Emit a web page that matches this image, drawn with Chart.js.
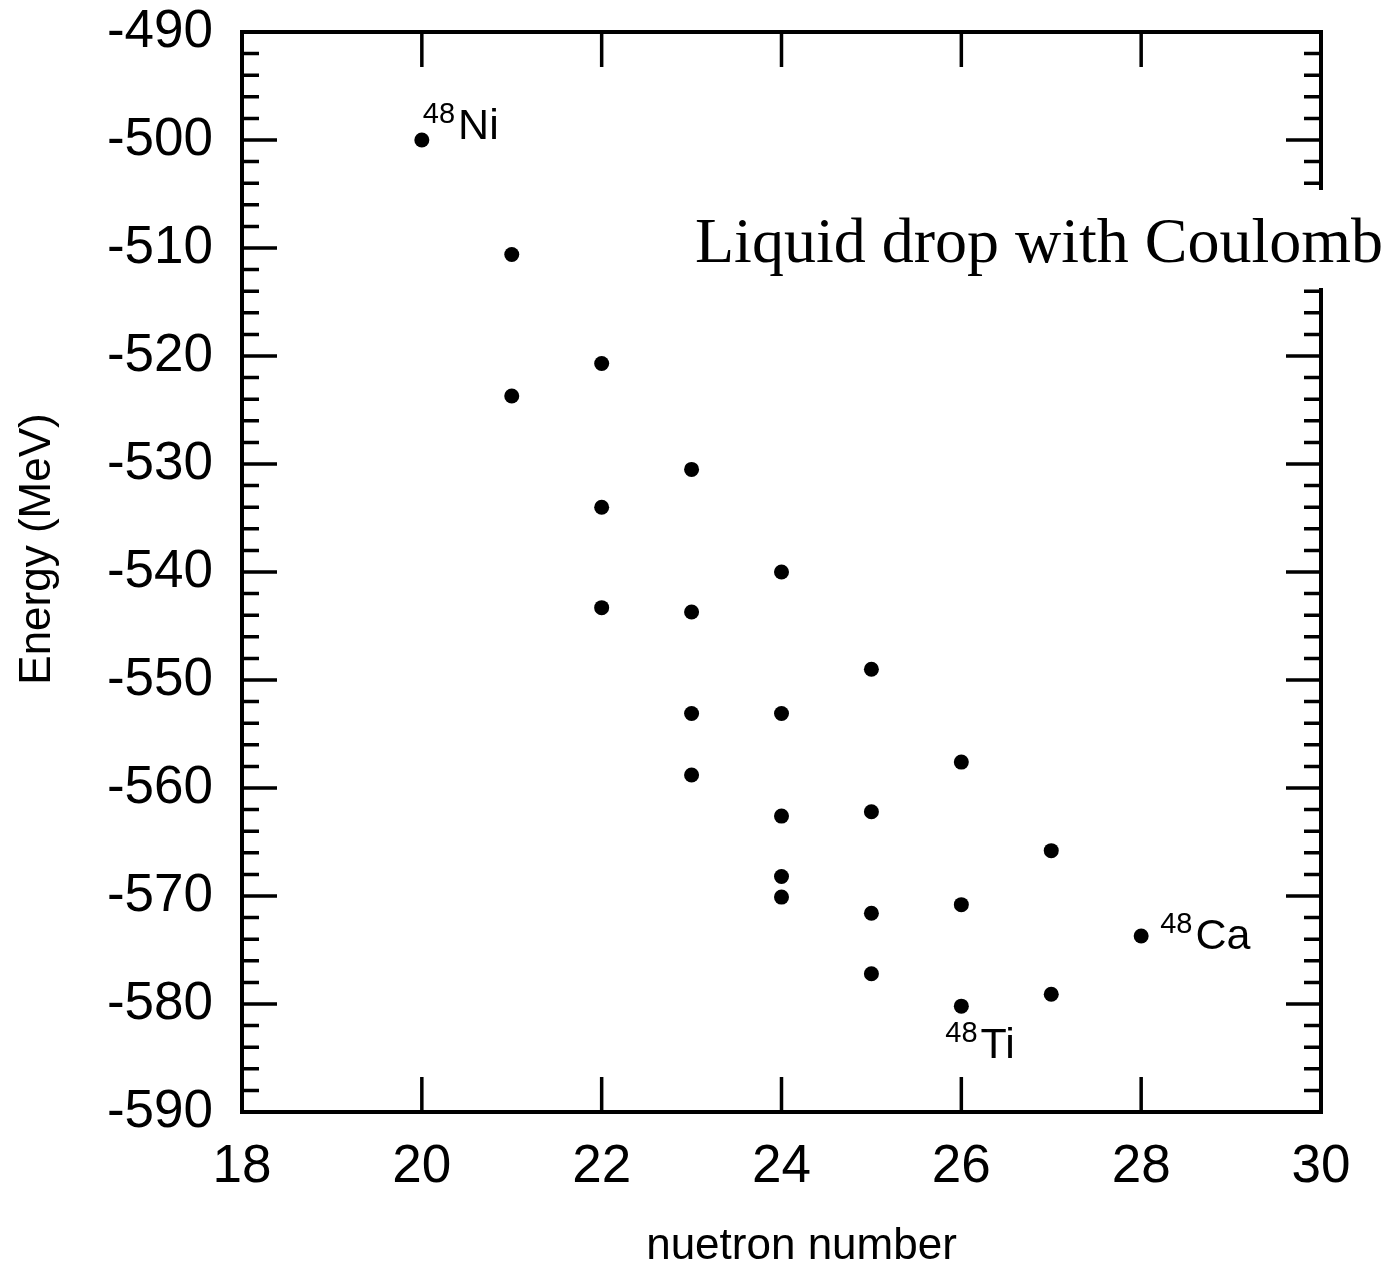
<!DOCTYPE html>
<html>
<head>
<meta charset="utf-8">
<script src="https://cdn.jsdelivr.net/npm/chart.js@4.4.0/dist/chart.umd.min.js"></script>
<style>
  html, body { margin: 0; padding: 0; background: #fff; }
  #wrap { width: 1390px; height: 1265px; }
</style>
</head>
<body>
<div id="wrap"><canvas id="chart" width="1390" height="1265"></canvas></div>
<script>
// datos
const neutrones = [20, 21, 21, 22, 22, 22, 23, 23, 23, 23, 24, 24, 24, 24, 24, 25, 25, 25, 25, 26, 26, 26, 27, 27, 28];
const energias = [-500.0, -510.6, -523.7, -520.7, -534.0, -543.3, -530.5, -543.7, -553.1, -558.8,
  -540.0, -553.1, -562.6, -568.2, -570.1, -549.0, -562.2, -571.6, -577.2, -557.6, -570.8, -580.2,
  -565.8, -579.1, -573.7];

const xTicks = [18, 20, 22, 24, 26, 28, 30];
const yTicks = [-590, -580, -570, -560, -550, -540, -530, -520, -510, -500, -490];

const isotopos = ['Ni', 'Ti', 'Ca'];
const isoN = [20, 26, 28];
const isoE = [-500.0, -580.2, -573.7];
const isoMasa = ['48', '48', '48'];

const titulo = 'Liquid drop with Coulomb';
const tituloX = 'nuetron number';
const tituloY = 'Energy (MeV)';

const sans = '"Liberation Sans", Arial, Helvetica, sans-serif';
const serif = '"Liberation Serif", "Times New Roman", serif';

// marcas hacia dentro, caja y textos
const decoracion = {
  id: 'decoracion',
  afterDraw(chart) {
    const ctx = chart.ctx;
    const a = chart.chartArea;
    const xs = chart.scales.x;
    const ys = chart.scales.y;
    ctx.save();
    ctx.strokeStyle = '#000';
    ctx.lineCap = 'butt';

    // ticks eje y (cada 2 MeV, mayores cada 10)
    ctx.lineWidth = 3.5;
    for (let v = -590; v <= -490; v += 2) {
      const y = ys.getPixelForValue(v);
      const len = (v % 10 === 0) ? 35 : 17;
      ctx.beginPath();
      ctx.moveTo(a.left, y); ctx.lineTo(a.left + len, y);
      ctx.moveTo(a.right, y); ctx.lineTo(a.right - len, y);
      ctx.stroke();
    }
    // ticks eje x
    xTicks.forEach(v => {
      const x = xs.getPixelForValue(v);
      ctx.beginPath();
      ctx.moveTo(x, a.bottom); ctx.lineTo(x, a.bottom - 35);
      ctx.moveTo(x, a.top); ctx.lineTo(x, a.top + 35);
      ctx.stroke();
    });

    // caja
    ctx.lineWidth = 4;
    ctx.strokeRect(a.left, a.top, a.right - a.left, a.bottom - a.top);

    // etiquetas de isotopos
    ctx.fillStyle = '#000';
    ctx.textBaseline = 'alphabetic';
    ctx.textAlign = 'left';
    const offs = [[1, -17, -1], [-16, 36, 52], [19, -3, 13]];
    isotopos.forEach((nombre, i) => {
      const px = xs.getPixelForValue(isoN[i]);
      const py = ys.getPixelForValue(isoE[i]);
      const o = offs[i];
      ctx.font = '29px ' + sans;
      ctx.fillText(isoMasa[i], px + o[0], py + o[1]);
      const w = ctx.measureText(isoMasa[i]).width;
      ctx.font = '43px ' + sans;
      ctx.fillText(nombre, px + o[0] + w + 3, py + o[2]);
    });

    // titulo eje y
    ctx.font = '44px ' + sans;
    ctx.save();
    ctx.translate(50, 549);
    ctx.rotate(-Math.PI / 2);
    ctx.textAlign = 'center';
    ctx.fillText(tituloY, 0, 0);
    ctx.restore();

    // titulo eje x
    ctx.textAlign = 'center';
    ctx.fillText(tituloX, (a.left + a.right) / 2 + 20, 1259);

    // texto con fondo blanco
    ctx.fillStyle = '#fff';
    ctx.fillRect(690, 190, 700, 98);
    ctx.fillStyle = '#000';
    ctx.font = '64px ' + serif;
    ctx.textAlign = 'left';
    ctx.fillText(titulo, 695, 262);
    ctx.restore();
  }
};

const ctx = document.getElementById('chart').getContext('2d');
new Chart(ctx, {
  type: 'scatter',
  data: {
    datasets: [{
      data: neutrones.map((n, i) => ({ x: n, y: energias[i] })),
      backgroundColor: '#000',
      borderColor: '#000',
      pointRadius: 7.5,
      pointHoverRadius: 7.5,
      borderWidth: 0
    }]
  },
  options: {
    responsive: false,
    animation: false,
    events: [],
    layout: { padding: { top: 32, right: 69, left: 0, bottom: 0 } },
    plugins: {
      legend: { display: false },
      tooltip: { enabled: false }
    },
    scales: {
      x: {
        type: 'linear',
        min: 18,
        max: 30,
        afterFit: s => { s.height = 153; s.paddingLeft = 0; s.paddingRight = 0; },
        afterBuildTicks: s => { s.ticks = xTicks.map(v => ({ value: v })); },
        grid: { display: false, drawTicks: false },
        border: { display: false },
        ticks: {
          padding: 24,
          color: '#000',
          font: { family: sans, size: 53 },
          callback: v => String(v)
        }
      },
      y: {
        type: 'linear',
        min: -590,
        max: -490,
        afterFit: s => { s.width = 242; s.paddingTop = 0; s.paddingBottom = 0; },
        afterBuildTicks: s => { s.ticks = yTicks.map(v => ({ value: v })); },
        grid: { display: false, drawTicks: false },
        border: { display: false },
        ticks: {
          padding: 29,
          color: '#000',
          font: { family: sans, size: 53 },
          callback: v => String(v)
        }
      }
    }
  },
  plugins: [decoracion]
});
</script>
</body>
</html>
